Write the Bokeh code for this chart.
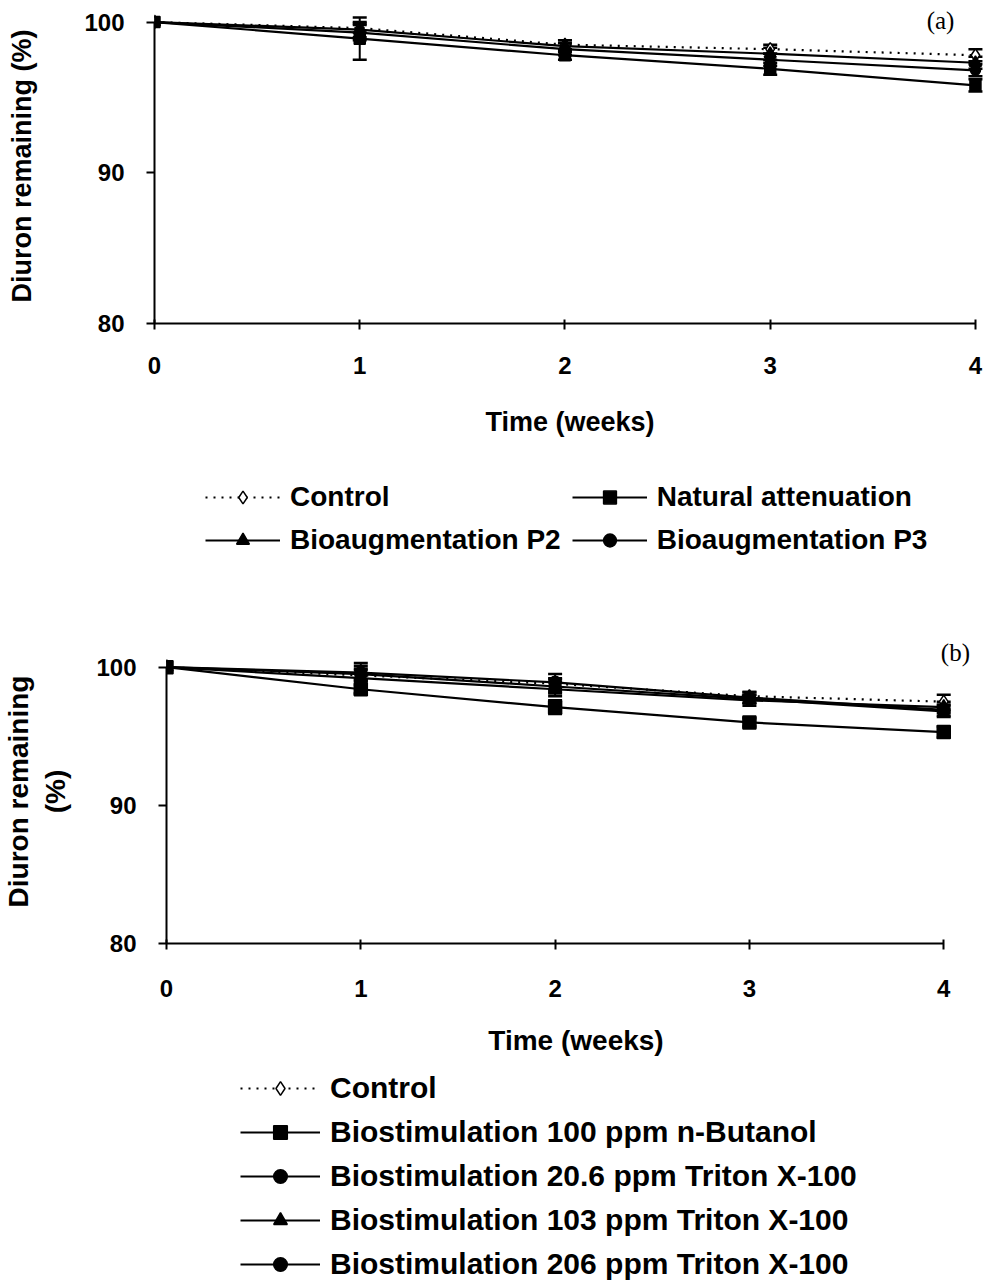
from bokeh.plotting import figure
from bokeh.models import (ColumnDataSource, Whisker, TeeHead, Legend, LegendItem,
                          Label, FixedTicker, Range1d)
from bokeh.embed import file_html
from bokeh.resources import INLINE

# ---------------- data ----------------
weeks = [0, 1, 2, 3, 4]
x_ticks = [0, 1, 2, 3, 4]
y_ticks = [80, 90, 100]

# panel (a)
control_a = [100, 99.6, 98.5, 98.2, 97.8]
control_a_err = [0, 0.3, 0.3, 0.3, 0.4]
natural_a = [100, 98.9, 97.8, 96.9, 95.8]
natural_a_err = [0, 1.4, 0.3, 0.4, 0.4]
p2_a = [100, 99.5, 98.4, 97.9, 97.3]
p2_a_err = [0, 0.5, 0.4, 0.4, 0.4]
p3_a = [100, 99.3, 98.2, 97.5, 96.8]
p3_a_err = [0, 0.5, 0.4, 0.4, 0.4]

# panel (b)
control_b = [100, 99.4, 98.8, 97.9, 97.5]
control_b_err = [0, 0.4, 0.4, 0.3, 0.5]
butanol_b = [100, 98.4, 97.1, 96.0, 95.3]
butanol_b_err = [0, 0.3, 0.5, 0.3, 0.4]
triton20_b = [100, 99.6, 98.9, 97.8, 96.9]
triton20_b_err = [0, 0.5, 0.6, 0.4, 0.4]
triton103_b = [100, 99.2, 98.4, 97.6, 97.1]
triton103_b_err = [0, 1.1, 0.5, 0.4, 0.4]
triton206_b = [100, 99.5, 98.6, 97.7, 96.8]
triton206_b_err = [0, 0.4, 0.5, 0.3, 0.4]

FONT = "Liberation Sans"
W = 986


def style_common(p):
    p.xgrid.visible = False
    p.ygrid.visible = False
    p.outline_line_color = None
    p.background_fill_color = "white"
    p.border_fill_color = "white"


def make_panel(series, height, left, right, top, bottom, x_end, y_end,
               tick_fs, label_fs, ylab, y_lab_standoff, x_tick_standoff,
               x_lab_standoff, letter, letter_xy):
    p = figure(width=W, height=height, title=None,
               x_range=Range1d(0, x_end), y_range=Range1d(80, y_end),
               output_backend="svg", toolbar_location=None,
               min_border_left=left, min_border_right=right,
               min_border_top=top, min_border_bottom=bottom)
    style_common(p)

    for ax in (p.xaxis[0], p.yaxis[0]):
        ax.axis_line_width = 2
        ax.major_tick_line_width = 2
        ax.minor_tick_line_color = None
        ax.major_label_text_font = FONT
        ax.major_label_text_font_style = "bold"
        ax.major_label_text_font_size = f"{tick_fs}px"
        ax.major_label_text_color = "black"
        ax.axis_label_text_font = FONT
        ax.axis_label_text_font_style = "bold"
        ax.axis_label_text_font_size = f"{label_fs}px"
        ax.axis_label_text_color = "black"
        ax.axis_line_color = "black"
        ax.major_tick_line_color = "black"

    p.xaxis.ticker = FixedTicker(ticks=x_ticks)
    p.xaxis.bounds = (0, 4)
    p.xaxis.major_tick_in = 4
    p.xaxis.major_tick_out = 6
    p.xaxis.major_label_standoff = x_tick_standoff
    p.xaxis.axis_label = "Time (weeks)"
    p.xaxis.axis_label_standoff = x_lab_standoff

    p.yaxis.ticker = FixedTicker(ticks=y_ticks)
    p.yaxis.bounds = (80, 100)
    p.yaxis.major_tick_in = 0
    p.yaxis.major_tick_out = 8
    p.yaxis.major_label_standoff = 22
    p.yaxis.axis_label = ylab
    p.yaxis.axis_label_standoff = y_lab_standoff

    for name, vals, errs, marker, size, fill, dash in series:
        src = ColumnDataSource(dict(x=weeks, y=vals))
        eb = [(w, v, e) for w, v, e in zip(weeks, vals, errs) if e > 0]
        esrc = ColumnDataSource(dict(x=[t[0] for t in eb],
                                     lo=[t[1] - t[2] for t in eb],
                                     hi=[t[1] + t[2] for t in eb]))
        p.line("x", "y", source=src, line_color="black", line_width=2.2,
               line_dash=dash)
        w = Whisker(base="x", lower="lo", upper="hi", source=esrc,
                    dimension="height", line_color="black", line_width=2,
                    upper_head=TeeHead(size=14, line_color="black", line_width=2.5),
                    lower_head=TeeHead(size=14, line_color="black", line_width=2.5))
        p.add_layout(w)
        p.scatter("x", "y", source=src, marker=marker, size=size,
                  fill_color=fill, line_color="black", line_width=1.5)

    p.add_layout(Label(x=letter_xy[0], y=letter_xy[1], text=letter,
                       text_font="Liberation Serif", text_font_size="25px",
                       text_color="black", text_align="center",
                       text_baseline="middle"))
    return p


def make_legend(series, height, legend_fs, glyph_w, item_h, loc, ncols, spacing):
    # legend-only canvas: the series are drawn out of view, only their legend shows
    p = figure(width=W, height=height, title=None,
               x_range=Range1d(50, 51), y_range=Range1d(0, 1),
               output_backend="svg", toolbar_location=None, min_border=0)
    style_common(p)
    p.axis.visible = False
    items = []
    for name, vals, errs, marker, size, fill, dash in series:
        src = ColumnDataSource(dict(x=weeks, y=vals))
        ln = p.line("x", "y", source=src, line_color="black", line_width=2.2,
                    line_dash=dash)
        sc = p.scatter("x", "y", source=src, marker=marker, size=size,
                       fill_color=fill, line_color="black", line_width=1.5)
        items.append(LegendItem(label=name, renderers=[ln, sc]))
    leg = Legend(items=items, location=loc, orientation="vertical",
                 ncols=ncols, padding=0, spacing=spacing, margin=0,
                 glyph_width=glyph_w, glyph_height=item_h, label_height=item_h,
                 label_standoff=10, border_line_color=None,
                 background_fill_alpha=0,
                 label_text_font=FONT, label_text_font_style="bold",
                 label_text_font_size=f"{legend_fs}px", label_text_color="black")
    p.add_layout(leg, "center")
    return p


series_a = [
    ("Control", control_a, control_a_err, "diamond", 13, "white", "2 6"),
    ("Bioaugmentation P2", p2_a, p2_a_err, "triangle", 12, "black", "solid"),
    ("Natural attenuation", natural_a, natural_a_err, "square", 11, "black", "solid"),
    ("Bioaugmentation P3", p3_a, p3_a_err, "circle", 10, "black", "solid"),
]

series_b = [
    ("Control", control_b, control_b_err, "diamond", 13, "white", "2 6"),
    ("Biostimulation 100 ppm n-Butanol", butanol_b, butanol_b_err, "square", 13, "black", "solid"),
    ("Biostimulation 20.6 ppm Triton X-100", triton20_b, triton20_b_err, "circle", 12, "black", "solid"),
    ("Biostimulation 103 ppm Triton X-100", triton103_b, triton103_b_err, "triangle", 13, "black", "solid"),
    ("Biostimulation 206 ppm Triton X-100", triton206_b, triton206_b_err, "circle", 12, "black", "solid"),
]

pa = make_panel(series_a, height=460, left=154, right=1, top=8, bottom=137,
                x_end=4.049, y_end=100.9, tick_fs=24, label_fs=27,
                ylab="Diuron remaining (%)", y_lab_standoff=44,
                x_tick_standoff=27, x_lab_standoff=30,
                letter="(a)", letter_xy=(3.83, 100.13))
la = make_legend(series_a, height=130, legend_fs=28, glyph_w=75, item_h=32,
                 loc=(205, 34), ncols=2, spacing=11)

pb = make_panel(series_b, height=480, left=163, right=1, top=49, bottom=127,
                x_end=4.215, y_end=102.0, tick_fs=24, label_fs=28,
                ylab="Diuron remaining\n(%)", y_lab_standoff=22,
                x_tick_standoff=30, x_lab_standoff=25,
                letter="(b)", letter_xy=(4.06, 101.09))
lb = make_legend(series_b, height=215, legend_fs=30, glyph_w=80, item_h=34,
                 loc=(240, 4), ncols=1, spacing=10)

open("out.html", "w").write(file_html([pa, la, pb, lb], INLINE))
